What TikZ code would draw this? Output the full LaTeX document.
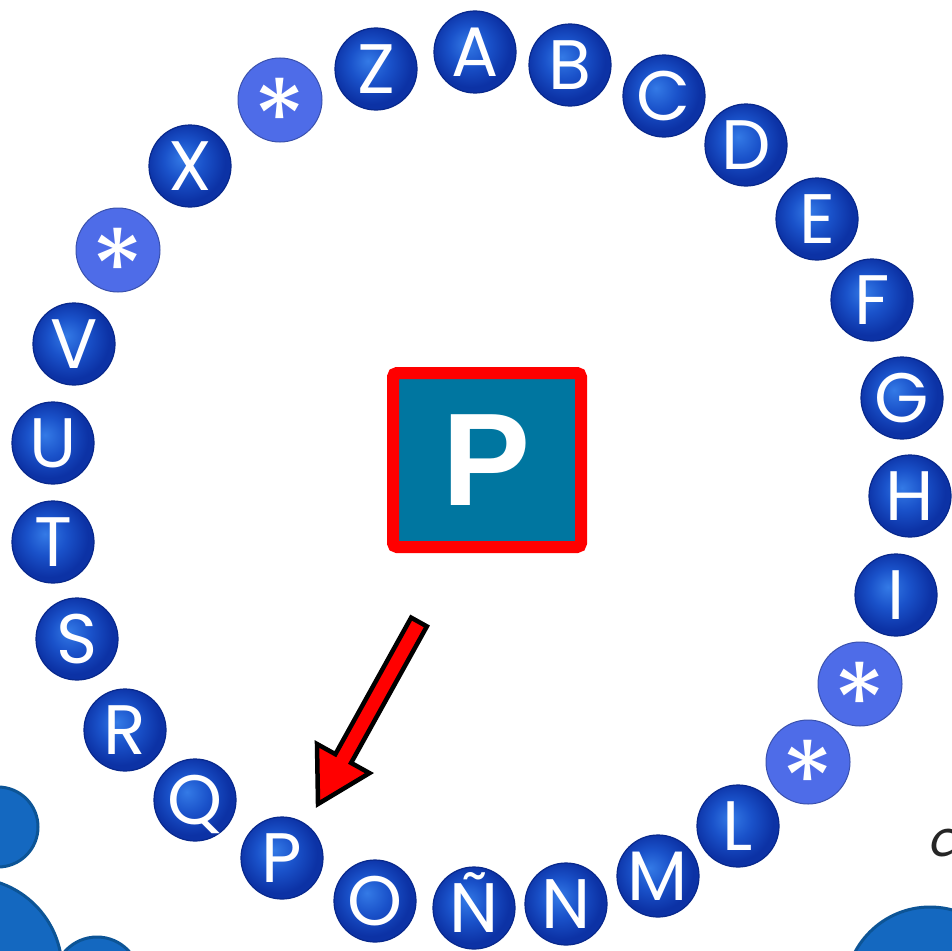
\documentclass[tikz,border=0pt]{standalone}
\usepackage{fontspec}
\usetikzlibrary{calc}
\newfontfamily\letterfont{Poppins}
\newfontfamily\signfont{Liberation Sans}
\definecolor{ballin}{RGB}{52,122,230}
\definecolor{ballmid}{RGB}{26,82,202}
\definecolor{ballout}{RGB}{12,50,165}
\definecolor{ballrim}{RGB}{8,40,140}
\definecolor{starblue}{RGB}{78,108,232}
\definecolor{signteal}{RGB}{0,118,160}
\definecolor{dotblue}{RGB}{20,104,192}
\definecolor{dotrim}{RGB}{12,84,150}
\pgfdeclareradialshading{letterball}{\pgfpoint{-5bp}{5bp}}{color(0bp)=(ballin); color(12bp)=(ballmid); color(24bp)=(ballout); color(50bp)=(ballout)}

\begin{document}
\begin{tikzpicture}[x=1pt,y=-1pt,
  letter/.style={circle,minimum size=82pt,inner sep=0pt,shading=letterball,draw=ballrim,line width=1.2pt,
    text=white,font=\letterfont\fontsize{70}{70}\selectfont,text height=49pt,text depth=0pt},
  starball/.style={circle,minimum size=84pt,inner sep=0pt,fill=starblue,draw=starblue!75!black,line width=1pt,
    text=white,font=\letterfont\fontsize{108}{108}\selectfont,text height=0pt,text depth=0pt},
  dot/.style={fill=dotblue,draw=dotrim,line width=3pt}]
  % pixel coordinates, y pointing down
  \useasboundingbox (0,0) rectangle (952,950);
  \fill[white] (0,0) rectangle (952,950);
  \draw[dot] (-2,827) circle (40pt);
  \draw[dot] (-30,970) circle (92pt);
  \draw[dot] (97,980) circle (43pt);
  \draw[dot] (930,992) circle (85pt);
  \foreach \name/\lbl/\px/\py in {A/A/475/52, B/B/570/65, C/C/664/96, D/D/746/145, E/E/817/219,
      F/F/872/300, G/G/902/398, H/H/910/496, I/I/896/595, L/L/738/826, M/M/658/876,
      N/N/566/904, Nt/Ñ/474/908, O/O/375/901, P/P/282/858, Q/Q/195/800, R/R/125/730,
      S/S/77/639, T/T/53/542, U/U/53/443, V/V/74/344, X/X/190/166, Z/Z/376/69}
    \node[letter] (\name) at (\px,\py) {\lbl};
  \foreach \name/\px/\py in {ast1/860/684, ast2/808/762, ast3/118/250, ast4/280/100}
    \node[starball] (\name) at (\px,\py) {\raisebox{-57pt}{*}};
  \node[draw=red,line width=12pt,fill=signteal,rounded corners=4pt,minimum width=188pt,minimum height=174pt,
    inner sep=0pt,text=white,font=\signfont\bfseries\fontsize{132}{132}\selectfont] (sign) at (487,460) {P};
  % arrow from the sign towards the P ball
  \coordinate (tail) at ($(sign.south)+(-68,69)$);
  \coordinate (tip) at ($(P)+(36,-54)$);
  \coordinate (head) at ($(tip)!52pt!(tail)$);
  \filldraw[fill=red,draw=black,line width=4.5pt,line join=miter]
    ($(tail)!9pt!90:(tip)$) -- ($(head)!9pt!-90:(tail)$) -- ($(head)!30pt!-90:(tail)$) -- (tip)
    -- ($(head)!30pt!90:(tail)$) -- ($(head)!9pt!90:(tail)$) -- ($(tail)!9pt!-90:(tip)$) -- cycle;
  \node[text=black!85,font=\sffamily\itshape\fontsize{62}{62}\selectfont,anchor=west] (cmark) at (924,843) {c};
\end{tikzpicture}
\end{document}
